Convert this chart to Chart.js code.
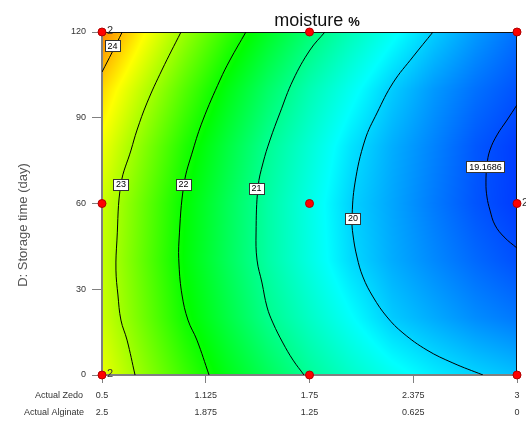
<!DOCTYPE html>
<html><head><meta charset="utf-8">
<script src="https://cdn.jsdelivr.net/npm/chart.js@4.4.1/dist/chart.umd.min.js"></script>
<style>html,body{margin:0;padding:0;background:#fff;}#wrap{width:526px;height:421px;position:relative;}</style>
</head><body><div id="wrap"><canvas id="c" width="526" height="421"></canvas></div>
<script>
// ---------- data ----------
const zedoTicks = [0.5, 1.125, 1.75, 2.375, 3];
const zedoLabels = ['0.5', '1.125', '1.75', '2.375', '3'];
const alginateLabels = ['2.5', '1.875', '1.25', '0.625', '0'];
const storageTicks = [0, 30, 60, 90, 120];
const storageLabels = ['0', '30', '60', '90', '120'];

const designPoints = [
  {x:0.5,y:0},{x:1.75,y:0},{x:3,y:0},
  {x:0.5,y:60},{x:1.75,y:60},{x:3,y:60},
  {x:0.5,y:120},{x:1.75,y:120},{x:3,y:120}
];
const replicateLabels = [{x:0.5,y:120,t:'2'},{x:0.5,y:0,t:'2'},{x:3,y:60,t:'2'}];

const contour24 = [{x:0.622,y:120},{x:0.562,y:113},{x:0.5,y:106}];
const contour23 = [{x:0.976,y:120},{x:0.861,y:106.7},{x:0.771,y:95.2},{x:0.711,y:85.7},{x:0.675,y:78.7},{x:0.614,y:66.8},{x:0.590,y:47.2},{x:0.584,y:36.7},{x:0.596,y:28.0},{x:0.614,y:19.2},{x:0.651,y:12.2},{x:0.699,y:0}];
const contour22 = [{x:1.367,y:120},{x:1.271,y:110.2},{x:1.211,y:103.2},{x:1.108,y:89.2},{x:1.048,y:78.7},{x:0.994,y:66.8},{x:0.964,y:47.2},{x:0.964,y:38.5},{x:0.982,y:28.0},{x:1.018,y:19.2},{x:1.072,y:12.2},{x:1.145,y:0}];
const contour21 = [{x:1.843,y:120},{x:1.753,y:113.7},{x:1.651,y:103.2},{x:1.572,y:91.7},{x:1.512,y:82.2},{x:1.470,y:74.2},{x:1.440,y:65.8},{x:1.428,y:49.7},{x:1.434,y:40.2},{x:1.464,y:32.2},{x:1.494,y:23.8},{x:1.530,y:18.2},{x:1.590,y:11.2},{x:1.651,y:5.2},{x:1.717,y:0}];
const contour20 = [{x:2.494,y:120},{x:2.373,y:111.3},{x:2.253,y:102.2},{x:2.157,y:91.7},{x:2.084,y:82.2},{x:2.024,y:67.2},{x:2.006,y:54.6},{x:2.012,y:49.0},{x:2.036,y:41.3},{x:2.072,y:34.3},{x:2.133,y:27.3},{x:2.217,y:20.3},{x:2.313,y:14.7},{x:2.458,y:8.7},{x:2.614,y:4.2},{x:2.795,y:0}];
const contour19 = [{x:3.0,y:94.5},{x:2.940,y:89.2},{x:2.880,y:84.0},{x:2.837,y:78.7},{x:2.819,y:73.5},{x:2.813,y:67.2},{x:2.819,y:62.3},{x:2.837,y:57.7},{x:2.867,y:52.5},{x:2.922,y:48.3},{x:3.0,y:44.4}];

const contourLabels = [
  {x:0.563,y:115.2,t:'24'},{x:0.614,y:66.8,t:'23'},{x:0.991,y:66.8,t:'22'},
  {x:1.431,y:65.4,t:'21'},{x:2.012,y:54.8,t:'20'},{x:2.810,y:72.8,t:'19.1686'}
];

// estimated moisture surface on a grid
const gridZedo = [0.5,0.75,1.0,1.25,1.5,1.75,2.0,2.25,2.5,2.75,3.0];
const gridDays = [0,20,40,60,80,100,120];
const moistureGrid = [
  [23.47,22.89,22.33,21.82,21.38,20.97,20.66,20.40,20.19,20.03,19.90],
  [23.28,22.66,22.04,21.53,21.04,20.67,20.32,19.97,19.77,19.58,19.45],
  [23.23,22.57,21.92,21.39,20.89,20.48,20.07,19.78,19.56,19.36,19.20],
  [23.28,22.62,21.96,21.41,20.89,20.46,20.02,19.74,19.47,19.23,19.07],
  [23.52,22.82,22.15,21.56,21.00,20.57,20.13,19.79,19.52,19.25,19.08],
  [23.85,23.17,22.49,21.86,21.29,20.80,20.39,19.98,19.66,19.41,19.22],
  [24.38,23.64,22.94,22.30,21.72,21.20,20.76,20.37,19.99,19.67,19.40]
];

// ---------- rendering ----------
const SANS = "'Liberation Sans',Arial,sans-serif";
// pick a narrow face if one is installed, else a smaller regular face
const probe = document.createElement('canvas').getContext('2d');
probe.font = "10px 'Liberation Sans Narrow', monospace"; const wNarrow = probe.measureText('Actual Alginate').width;
probe.font = "10px monospace"; const wMono = probe.measureText('Actual Alginate').width;
const hasNarrow = Math.abs(wNarrow - wMono) > 0.5;
const SMALL_FAMILY = hasNarrow ? "'Liberation Sans Narrow',Arial,sans-serif" : SANS;
const SMALL_SIZE = hasNarrow ? 10 : 9;

const cmapStops = [[18.7,[0,0,255]],[20.3,[0,255,255]],[21.95,[0,255,0]],[23.6,[255,255,0]],[25.2,[255,0,0]]];

function cmap(v){
  if (v <= cmapStops[0][0]) return cmapStops[0][1];
  for (let k=1;k<cmapStops.length;k++){
    if (v <= cmapStops[k][0]){
      const [v0,c0]=cmapStops[k-1],[v1,c1]=cmapStops[k];
      const t=(v-v0)/(v1-v0);
      return [c0[0]+(c1[0]-c0[0])*t, c0[1]+(c1[1]-c0[1])*t, c0[2]+(c1[2]-c0[2])*t];
    }
  }
  return cmapStops[cmapStops.length-1][1];
}
function locate(arr, v){
  let i=0; while(i<arr.length-2 && v>arr[i+1]) i++;
  let t=(v-arr[i])/(arr[i+1]-arr[i]); t=Math.max(0,Math.min(1,t));
  return [i,t];
}
function surface(xv,yv){
  const [i,tx]=locate(gridZedo,xv), [j,ty]=locate(gridDays,yv);
  const a=moistureGrid[j][i], b=moistureGrid[j][i+1], c=moistureGrid[j+1][i], d=moistureGrid[j+1][i+1];
  return (a*(1-tx)+b*tx)*(1-ty)+(c*(1-tx)+d*tx)*ty;
}

const surfacePlugin = {
  id:'surface',
  beforeDatasetsDraw(chart){
    const {ctx, chartArea:a, scales:{x,y}} = chart;
    const L=Math.round(a.left), T=Math.round(a.top), w=Math.round(a.right)-L, h=Math.round(a.bottom)-T;
    const img = ctx.createImageData(w,h);
    for (let j=0;j<h;j++){
      const yv = y.getValueForPixel(T+j+0.5);
      for (let i=0;i<w;i++){
        const xv = x.getValueForPixel(L+i+0.5);
        const c = cmap(surface(xv,yv));
        const p=(j*w+i)*4;
        img.data[p]=c[0]; img.data[p+1]=c[1]; img.data[p+2]=c[2]; img.data[p+3]=255;
      }
    }
    ctx.putImageData(img,L,T);
    ctx.save();
    ctx.strokeStyle='#111'; ctx.lineWidth=1;
    ctx.beginPath(); ctx.moveTo(L, T+0.5); ctx.lineTo(L+w, T+0.5); ctx.moveTo(L+w-0.5, T); ctx.lineTo(L+w-0.5, T+h); ctx.stroke();
    ctx.strokeStyle='#808080'; ctx.lineWidth=2;
    ctx.beginPath(); ctx.moveTo(L, T); ctx.lineTo(L, T+h); ctx.moveTo(L-1, T+h); ctx.lineTo(L+w, T+h); ctx.stroke();
    ctx.restore();
  },
  afterDatasetsDraw(chart){
    const {ctx, scales:{x,y}} = chart;
    ctx.save();
    ctx.font = SMALL_SIZE+"px "+SMALL_FAMILY;
    ctx.textAlign='center'; ctx.textBaseline='middle';
    contourLabels.forEach(l=>{
      const px=x.getPixelForValue(l.x), py=y.getPixelForValue(l.y);
      const tw=ctx.measureText(l.t).width;
      const bw=Math.round(tw+5), bh=11;
      const bx=Math.round(px-bw/2)+0.5, by=Math.round(py-bh/2)+0.5;
      ctx.fillStyle='#fff'; ctx.fillRect(bx,by,bw,bh);
      ctx.strokeStyle='#333'; ctx.lineWidth=1; ctx.strokeRect(bx,by,bw,bh);
      ctx.fillStyle='#000'; ctx.fillText(l.t, px, py+0.5);
    });
    ctx.font = "11px "+SANS; ctx.textAlign='left'; ctx.fillStyle='#333';
    replicateLabels.forEach(l=>{
      ctx.fillText(l.t, x.getPixelForValue(l.x)+5, y.getPixelForValue(l.y)-1);
    });
    ctx.restore();
  },
  afterDraw(chart){
    const {ctx} = chart;
    ctx.save();
    ctx.fillStyle='#111'; ctx.textBaseline='alphabetic'; ctx.textAlign='left';
    ctx.font="18px "+SANS;
    const t1='moisture ';
    const w1=ctx.measureText(t1).width;
    ctx.font="bold 13px "+SANS;
    const w2=ctx.measureText('%').width;
    let sx=317-(w1+w2)/2;
    ctx.font="18px "+SANS; ctx.fillText(t1,sx,26);
    ctx.font="bold 13px "+SANS; ctx.fillText('%',sx+w1,26);
    ctx.save();
    ctx.translate(23,225); ctx.rotate(-Math.PI/2);
    ctx.font="13px "+SANS; ctx.fillStyle='#555'; ctx.textAlign='center'; ctx.textBaseline='middle';
    ctx.fillText('D: Storage time (day)',0,0);
    ctx.restore();
    ctx.font=SMALL_SIZE+"px "+SMALL_FAMILY; ctx.fillStyle='#333'; ctx.textAlign='right'; ctx.textBaseline='middle';
    ctx.fillText('Actual Zedo',83,395.5);
    ctx.fillText('Actual Alginate',84,412.5);
    ctx.restore();
  }
};

const lineDs = (data)=>({type:'scatter', data, showLine:true, borderColor:'#000', borderWidth:1, pointRadius:0, pointHoverRadius:0, tension:0.4, fill:false, order:2});

new Chart(document.getElementById('c'), {
  type:'scatter',
  data:{datasets:[
    {data:designPoints, pointRadius:4, backgroundColor:'#ff0000', borderColor:'#b00000', borderWidth:1, clip:false, order:0},
    lineDs(contour24), lineDs(contour23), lineDs(contour22), lineDs(contour21), lineDs(contour20), lineDs(contour19)
  ]},
  options:{
    responsive:false, animation:false, devicePixelRatio:1,
    layout:{padding:{left:0, top:32, right:9, bottom:0}},
    plugins:{legend:{display:false}, tooltip:{enabled:false}, title:{display:false}},
    scales:{
      x:{type:'linear', min:0.5, max:3,
        afterBuildTicks:s=>{s.ticks=zedoTicks.map(v=>({value:v}));},
        afterFit:s=>{s.height=46;},
        grid:{drawOnChartArea:false, drawTicks:true, tickLength:8, color:'#808080', tickWidth:1},
        border:{display:false},
        ticks:{callback:(v)=>{const i=zedoTicks.indexOf(v); return [zedoLabels[i], alginateLabels[i]];},
          font:{family:SMALL_FAMILY, size:SMALL_SIZE, lineHeight:17/SMALL_SIZE}, color:'#333', padding:4, maxRotation:0, autoSkip:false}
      },
      y:{type:'linear', min:0, max:120,
        afterBuildTicks:s=>{s.ticks=storageTicks.map(v=>({value:v}));},
        afterFit:s=>{s.width=102;},
        grid:{drawOnChartArea:false, drawTicks:true, tickLength:10, color:'#808080', tickWidth:1},
        border:{display:false},
        ticks:{callback:(v)=>storageLabels[storageTicks.indexOf(v)],
          font:{family:SMALL_FAMILY, size:SMALL_SIZE}, color:'#333', padding:6, autoSkip:false}
      }
    }
  },
  plugins:[surfacePlugin]
});
</script></body></html>
